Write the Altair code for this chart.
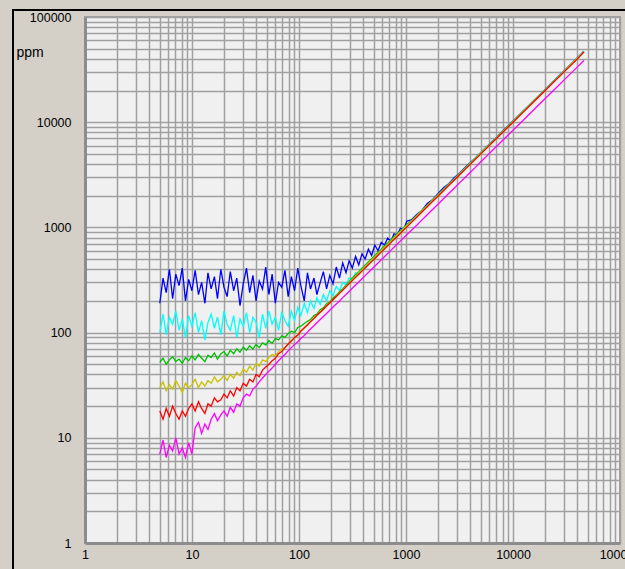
import altair as alt
import pandas as pd

# shared x positions (ppm scale)
x_vals = [5.00, 5.36, 5.74, 6.15, 6.59, 7.06, 7.57, 8.11, 8.69, 9.31,
          9.98, 10.7, 11.5, 12.3, 13.2, 14.1, 15.1, 16.2, 17.3, 18.6,
          19.9, 21.3, 22.8, 24.5, 26.2, 28.1, 30.1, 32.3, 34.6, 37.1,
          39.7, 42.5, 45.6, 48.9, 52.3, 56.1, 60.1, 64.4, 69.0, 73.9,
          79.2, 84.9, 90.9, 97.4, 104, 112, 120, 128, 138, 147,
          158, 169, 181, 194, 208, 223, 239, 256, 275, 294,
          315, 338, 362, 388, 415, 445, 477, 511, 548, 587,
          629, 674, 722, 773, 829, 888, 951, 1020,
          1120, 1260, 1410, 1580, 1780, 2000, 2240, 2510, 2820, 3160,
          3550, 3980, 4470, 5010, 5620, 6310, 7080, 7940, 8910, 10000,
          12600, 15800, 20000, 25100, 31600, 39800, 46000]

blue = [190, 330, 240, 400, 210, 360, 280, 410, 200, 320,
        250, 390, 230, 300, 190, 370, 260, 340, 210, 400,
        270, 220, 380, 250, 330, 180, 290, 410, 240, 350,
        200, 310, 260, 420, 230, 360, 190, 300, 270, 390,
        220, 340, 250, 410, 280, 200, 370, 260, 330, 230,
        300, 380, 260, 350, 290, 420, 330, 460, 370, 480,
        410, 530, 440, 560, 500, 620, 540, 680, 600, 720,
        680, 790, 740, 870, 850, 980, 960, 1150,
        1180, 1330, 1450, 1690, 1840, 2100, 2380, 2600, 2970, 3280,
        3700, 4120, 4600, 5150, 5780, 6480, 7250, 8150, 9150, 10250,
        12900, 16200, 20500, 25700, 32400, 40800, 47200]

cyan = [100, 150, 95, 140, 120, 160, 105, 135, 90, 145,
        115, 155, 100, 130, 85, 125, 150, 110, 140, 95,
        160, 120, 105, 145, 90, 135, 115, 155, 100, 140,
        125, 90, 150, 110, 160, 120, 140, 105, 155, 130,
        115, 160, 130, 175, 145, 190, 155, 200, 170, 215,
        185, 230, 200, 250, 225, 275, 250, 300, 285, 330,
        320, 370, 360, 410, 405, 460, 470, 520, 545, 600,
        645, 700, 740, 800, 840, 910, 960, 1060,
        1150, 1290, 1450, 1620, 1820, 2050, 2290, 2570, 2890, 3240,
        3630, 4070, 4570, 5120, 5740, 6440, 7230, 8100, 9090, 10200,
        12850, 16100, 20400, 25600, 32200, 40600, 47000]

green = [52, 57, 50, 55, 59, 53, 56, 51, 58, 54,
         60, 55, 62, 57, 53, 61, 58, 64, 56, 63,
         66, 60, 68, 63, 70, 65, 73, 68, 75, 70,
         77, 72, 80, 76, 84, 79, 88, 85, 93, 90,
         98, 103, 100, 112, 115, 122, 128, 133, 145, 150,
         165, 172, 188, 195, 213, 226, 245, 262, 283, 305,
         330, 355, 380, 410, 438, 470, 505, 540, 580, 622,
         665, 712, 762, 815, 870, 930, 995, 1065,
         1160, 1300, 1450, 1625, 1825, 2050, 2290, 2560, 2870, 3220,
         3610, 4050, 4540, 5090, 5710, 6410, 7190, 8060, 9040, 10150,
         12780, 16030, 20280, 25450, 32050, 40350, 46600]

yellow = [30, 34, 28, 32, 29, 35, 31, 27, 33, 30,
          32, 36, 30, 34, 31, 35, 33, 38, 34, 36,
          39, 35, 40, 37, 42, 39, 45, 42, 48, 44,
          51, 48, 55, 53, 58, 62, 60, 66, 70, 72,
          78, 84, 90, 95, 104, 110, 120, 126, 138, 146,
          158, 166, 181, 192, 206, 222, 238, 256, 276, 296,
          320, 342, 368, 395, 422, 455, 488, 522, 562, 600,
          645, 690, 740, 792, 850, 910, 975, 1045,
          1140, 1285, 1435, 1610, 1810, 2030, 2270, 2545, 2860, 3200,
          3600, 4030, 4530, 5070, 5690, 6390, 7170, 8040, 9020, 10120,
          12750, 16000, 20250, 25400, 32000, 40300, 46600]

red = [18, 15, 19, 16, 20, 17, 15, 18, 16, 19,
       21, 18, 22, 19, 17, 21, 20, 24, 22, 23,
       26, 24, 28, 25, 30, 28, 33, 31, 36, 34,
       40, 38, 44, 47, 50, 54, 57, 63, 66, 72,
       78, 83, 90, 95, 103, 111, 118, 127, 136, 146,
       156, 167, 179, 191, 205, 220, 236, 253, 272, 291,
       312, 335, 359, 384, 412, 441, 473, 506, 543, 582,
       623, 668, 716, 766, 821, 881, 943, 1012,
       1110, 1250, 1400, 1570, 1770, 1990, 2230, 2500, 2810, 3150,
       3540, 3970, 4460, 5000, 5610, 6300, 7070, 7930, 8900, 9990,
       12600, 15800, 20000, 25100, 31600, 39800, 46600]

magenta = [7, 9.5, 6.5, 8.5, 7.5, 10, 7, 8, 6.5, 9,
           7, 12.5, 14, 11, 13.5, 12, 15, 17, 14.5, 16.5,
           18, 16, 19.5, 17.5, 21, 20, 24, 26, 25, 29,
           31, 34, 37, 40, 43, 46, 50, 54, 58, 62,
           67, 72, 77, 82, 88, 94, 101, 108, 116, 124,
           133, 142, 152, 163, 175, 187, 200, 215, 230, 246,
           264, 283, 303, 325, 348, 373, 400, 428, 459, 492,
           527, 565, 605, 648, 694, 744, 797, 855,
           935, 1050, 1180, 1320, 1490, 1670, 1875, 2100, 2360, 2650,
           2970, 3330, 3740, 4200, 4710, 5290, 5940, 6660, 7480, 8390,
           10570, 13260, 16780, 21060, 26510, 33390, 38600]

series_names = ["blue", "cyan", "green", "yellow", "red", "magenta"]
series = [blue, cyan, green, yellow, red, magenta]
colors = ["#0000ff", "#00ffff", "#00c000", "#c8c000", "#ff0000", "#ff00ff"]

decades = [1, 10, 100, 1000, 10000, 100000]
multipliers = [1, 2, 3, 4, 5, 6, 7, 8, 9]
grid_vals = [d * m for d in decades[:-1] for m in multipliers] + [decades[-1]]

FONT = "Liberation Sans"
label_expr = ("indexof([1,10,100,1000,10000,100000], datum.value) >= 0 ? "
              "format(datum.value, 'd') : ''")

common_axis = dict(values=grid_vals, labelExpr=label_expr, grid=True,
                   gridColor="#a0a0a0", gridWidth=1.5, gridOpacity=1,
                   ticks=False, domainColor="#8c8c8c", domainWidth=3,
                   labelFont=FONT, labelFontSize=12.5, labelColor="#000000",
                   labelFlush=False, labelOverlap=False, labelBound=False)

x_axis = alt.Axis(title=None, labelPadding=5, **common_axis)
y_axis = alt.Axis(title="ppm", titleAngle=0, titleX=-69, titleY=35,
                  titleAlign="left", titleBaseline="middle",
                  titleFont=FONT, titleFontSize=14, titleFontWeight="normal",
                  titleColor="#000000", labelPadding=14, **common_axis)

x_scale = alt.Scale(type="log", domain=[1, 100000])
y_scale = alt.Scale(type="log", domain=[1, 100000])

layers = []
for name, vals, col in zip(series_names, series, colors):
    df = pd.DataFrame({"x": x_vals, "y": vals, "s": [name] * len(x_vals)})
    layers.append(
        alt.Chart(df).mark_line(color=col, strokeWidth=1.3,
                                strokeJoin="miter").encode(
            x=alt.X("x:Q", scale=x_scale, axis=x_axis),
            y=alt.Y("y:Q", scale=y_scale, axis=y_axis),
        )
    )

frame_data = pd.DataFrame({"k": [0]})
frame_left = alt.Chart(frame_data).mark_rule(color="#000000", strokeWidth=2).encode(
    x=alt.value(-72), y=alt.value(-7), y2=alt.value(560))
frame_top = alt.Chart(frame_data).mark_rule(color="#000000", strokeWidth=2).encode(
    x=alt.value(-73), x2=alt.value(700), y=alt.value(-7))

chart = alt.layer(*layers, frame_left, frame_top).properties(
    width=535, height=526,
    padding={"left": 85, "top": 17, "right": 5, "bottom": 26},
    autosize=alt.AutoSizeParams(type="none"),
    background="#d4d0c8",
).configure_view(fill="#f0f0f0", stroke="#a0a0a0", strokeWidth=2)

chart.save("out.html", embed_options={"renderer": "svg", "actions": False})
